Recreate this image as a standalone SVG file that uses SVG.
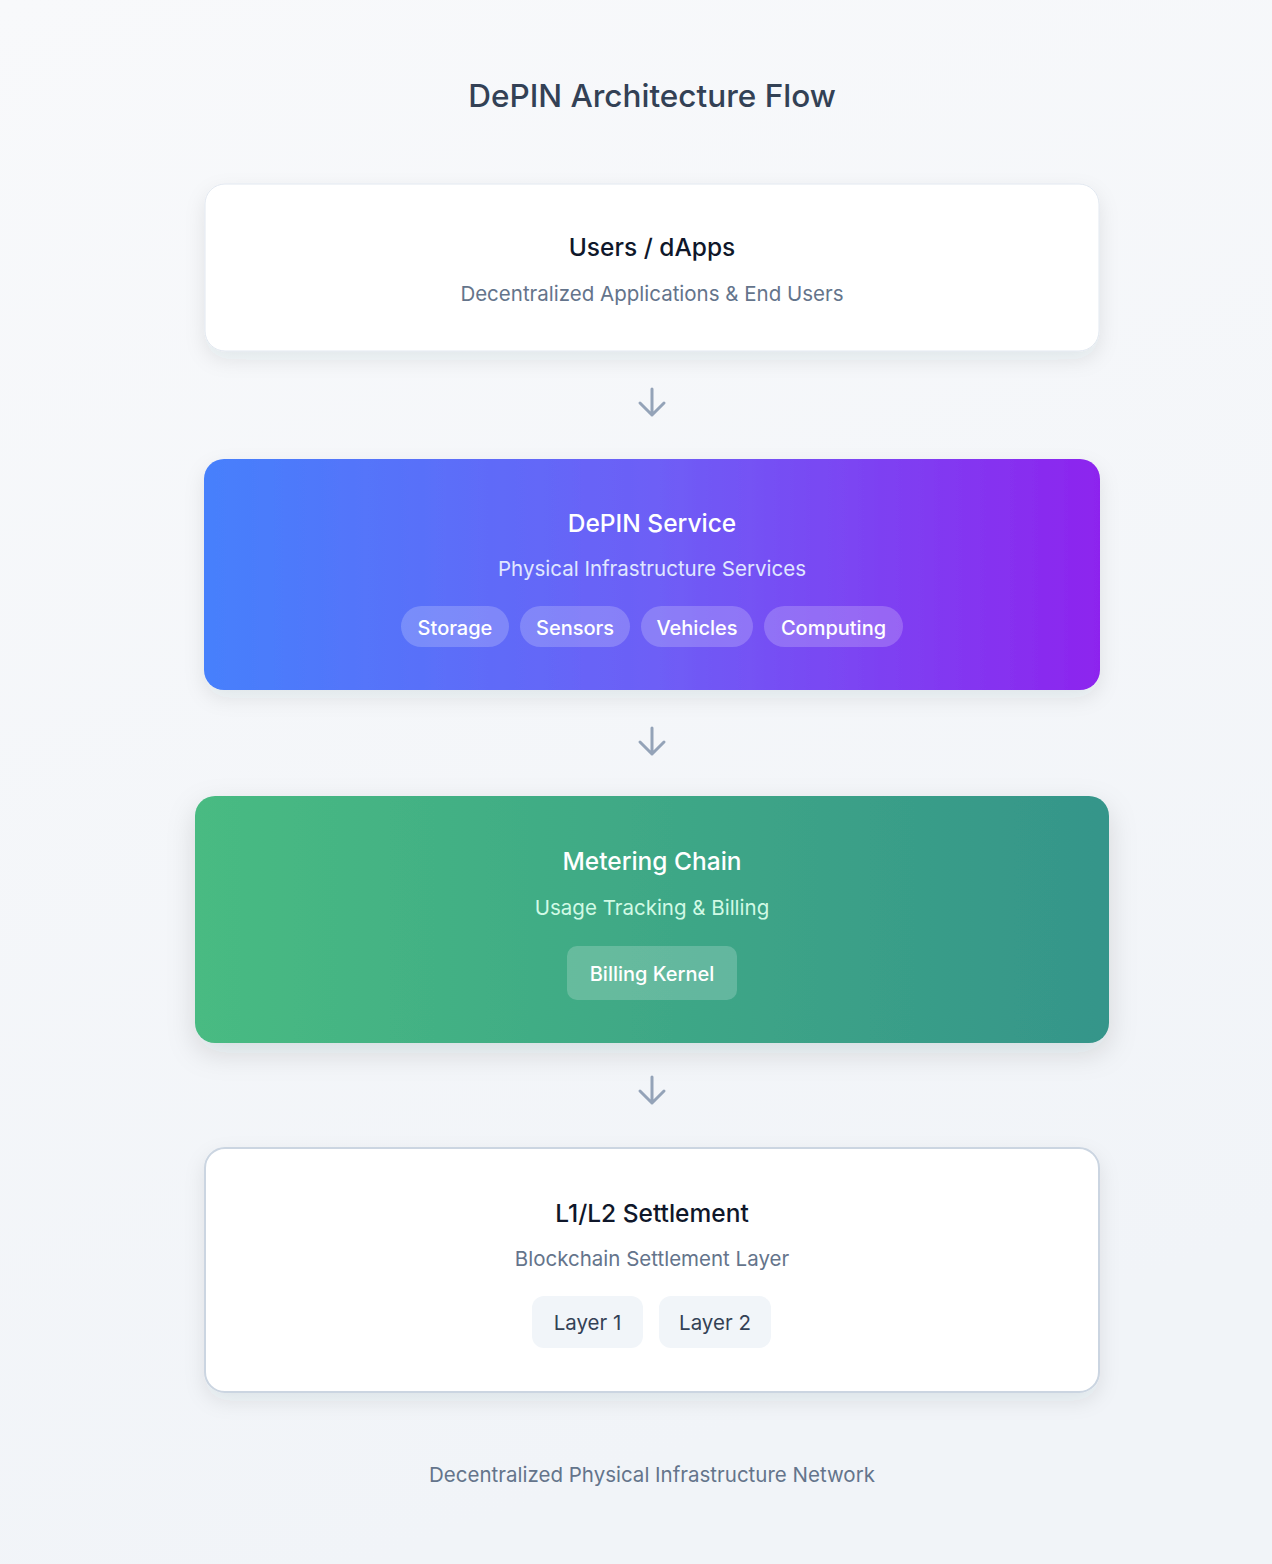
<svg xmlns="http://www.w3.org/2000/svg" width="1272" height="1564" viewBox="0 0 1272 1564">
<defs>
<linearGradient id="bg" x1="0" y1="0" x2="0.3" y2="1"><stop offset="0" stop-color="#f8f9fb"/><stop offset="1" stop-color="#f1f4f8"/></linearGradient>
<linearGradient id="gBlue" x1="0" y1="0" x2="1" y2="0"><stop offset="0" stop-color="#4680fc"/><stop offset="0.5" stop-color="#6d5ff6"/><stop offset="1" stop-color="#8d24ee"/></linearGradient>
<linearGradient id="gGreen" x1="0" y1="0" x2="1" y2="0"><stop offset="0" stop-color="#48bb82"/><stop offset="1" stop-color="#35958a"/></linearGradient>
<filter id="sh" x="-10%" y="-20%" width="120%" height="150%"><feDropShadow dx="0" dy="8" stdDeviation="10" flood-color="#1e293b" flood-opacity="0.09"/></filter>
<filter id="sh2" x="-10%" y="-20%" width="120%" height="150%"><feDropShadow dx="0" dy="10" stdDeviation="14" flood-color="#1e293b" flood-opacity="0.13"/></filter>
</defs>
<style>
text{font-family:Inter,"Noto Sans","Liberation Sans",sans-serif;text-anchor:middle}
.title{font-size:31.5px;font-weight:500;fill:#334155}
.h{font-size:24.5px;font-weight:500}
.sub{font-size:20.5px;font-weight:400}
.pill{font-size:20px;font-weight:500;fill:#ffffff}
.conn path{fill:none;stroke:#94a3b8;stroke-width:3;stroke-linecap:round;stroke-linejoin:round}
</style>
<rect width="1272" height="1564" fill="url(#bg)"/>
<text class="title" x="652" y="107">DePIN Architecture Flow</text>

<g id="users">
<rect x="205" y="184" width="894" height="167" rx="20" fill="#ffffff" stroke="#e2e8f0" stroke-width="1" filter="url(#sh)"/>
<text class="h" x="652" y="256" fill="#0f172a">Users / dApps</text>
<text class="sub" x="652" y="301" fill="#64748b">Decentralized Applications &amp; End Users</text>
</g>

<g id="depin-service">
<rect x="204" y="459" width="896" height="231" rx="20" fill="url(#gBlue)" filter="url(#sh)"/>
<text class="h" x="652" y="532" fill="#ffffff">DePIN Service</text>
<text class="sub" x="652" y="576" fill="#e0e7ff">Physical Infrastructure Services</text>
<rect x="401" y="606" width="108" height="41" rx="20.5" fill="#ffffff" fill-opacity="0.2"/>
<text class="pill" x="455" y="635">Storage</text>
<rect x="520" y="606" width="110" height="41" rx="20.5" fill="#ffffff" fill-opacity="0.2"/>
<text class="pill" x="575" y="635">Sensors</text>
<rect x="641" y="606" width="112" height="41" rx="20.5" fill="#ffffff" fill-opacity="0.2"/>
<text class="pill" x="697" y="635">Vehicles</text>
<rect x="764" y="606" width="139" height="41" rx="20.5" fill="#ffffff" fill-opacity="0.2"/>
<text class="pill" x="833.5" y="635">Computing</text>
</g>

<g id="metering-chain">
<rect x="195" y="796" width="914" height="247" rx="20" fill="url(#gGreen)" filter="url(#sh2)"/>
<text class="h" x="652" y="870" fill="#ffffff">Metering Chain</text>
<text class="sub" x="652" y="915" fill="#d1fae5">Usage Tracking &amp; Billing</text>
<rect x="567" y="946" width="170" height="54" rx="10" fill="#ffffff" fill-opacity="0.2"/>
<text class="pill" x="652" y="981">Billing Kernel</text>
</g>

<g id="settlement">
<rect x="205" y="1148" width="894" height="244" rx="20" fill="#ffffff" stroke="#cbd5e1" stroke-width="2" filter="url(#sh)"/>
<text class="h" x="652" y="1222" fill="#0f172a">L1/L2 Settlement</text>
<text class="sub" x="652" y="1266" fill="#64748b">Blockchain Settlement Layer</text>
<rect x="532" y="1296" width="111" height="52" rx="12" fill="#f1f5f9"/>
<text class="sub" x="587.5" y="1330" fill="#334155">Layer 1</text>
<rect x="659" y="1296" width="112" height="52" rx="12" fill="#f1f5f9"/>
<text class="sub" x="715" y="1330" fill="#334155">Layer 2</text>
</g>

<g id="connectors" class="conn">
<path d="M652 389V415M640 403L652 415L664 403"/>
<path d="M652 728V754M640 742L652 754L664 742"/>
<path d="M652 1077V1103M640 1091L652 1103L664 1091"/>
</g>

<text class="sub" x="652" y="1482" fill="#64748b">Decentralized Physical Infrastructure Network</text>
</svg>
